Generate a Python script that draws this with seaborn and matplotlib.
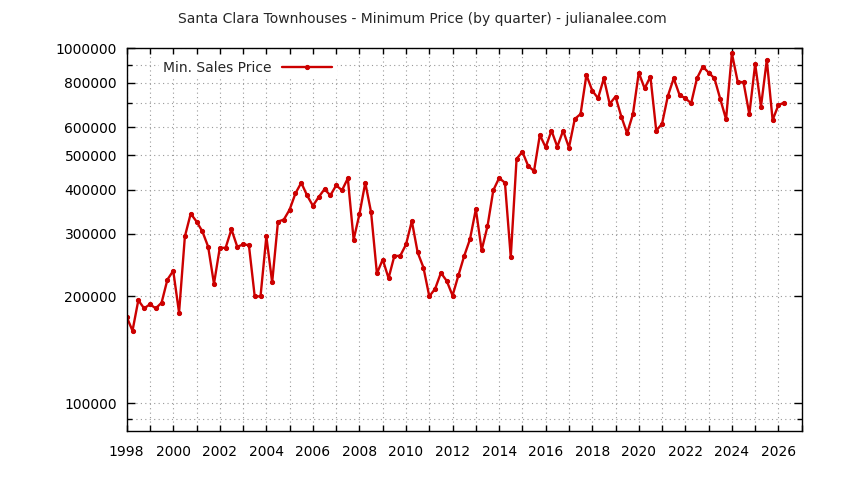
import pandas as pd
import seaborn as sns
import matplotlib
matplotlib.use("Agg")
import matplotlib.pyplot as plt
from matplotlib.ticker import FixedLocator, FuncFormatter, NullFormatter, MultipleLocator

# quarterly minimum sales price, 1998 Q1 .. 2026 Q2
first_quarter = "1998Q1"
last_quarter = "2026Q2"
min_price = [
    175000, 160000, 195000, 185000, 190000, 185000, 192000, 223000,  # 1998-1999
    236000, 180000, 295000, 342000, 325000, 305000, 276000, 217000,  # 2000-2001
    274000, 274000, 309000, 276000, 280000, 279000, 200000, 200000,  # 2002-2003
    295000, 219000, 325000, 329000, 351000, 390000, 418000, 385000,  # 2004-2005
    360000, 381000, 401000, 385000, 411000, 398000, 430000, 289000,  # 2006-2007
    341000, 418000, 345000, 232000, 254000, 225000, 260000, 260000,  # 2008-2009
    280000, 326000, 266000, 241000, 200000, 210000, 233000, 221000,  # 2010-2011
    201000, 229000, 260000, 290000, 352000, 270000, 315000, 398000,  # 2012-2013
    431000, 418000, 258000, 488000, 511000, 466000, 451000, 570000,  # 2014-2015
    526000, 586000, 528000, 586000, 525000, 632000, 653000, 841000,  # 2016-2017
    760000, 723000, 823000, 697000, 731000, 642000, 576000, 653000,  # 2018-2019
    854000, 771000, 832000, 586000, 613000, 734000, 823000, 739000,  # 2020-2021
    723000, 700000, 823000, 888000, 854000, 823000, 720000, 631000,  # 2022-2023
    968000, 805000, 802000, 652000, 903000, 685000, 927000, 628000,  # 2024-2025
    692000, 703000,                                                  # 2026
]

y_major = [100000, 200000, 300000, 400000, 500000, 600000, 800000, 1000000]
y_minor = [90000, 700000, 900000]

periods = pd.period_range(first_quarter, last_quarter, freq="Q")
df = pd.DataFrame({
    "year": periods.year + (periods.quarter - 1) / 4,
    "price": min_price,
})

sns.set_style("ticks")
plt.rcParams["font.family"] = ["DejaVu Sans"]

fig = plt.figure(figsize=(8.44, 4.80), dpi=100)
ax = fig.add_axes([0.1501, 0.1021, 0.7998, 0.7973])

sns.lineplot(data=df, x="year", y="price", ax=ax, color="#cc0000",
             linewidth=1.7, marker="o", markersize=3,
             markeredgecolor="#cc0000", label="Min. Sales Price")

ax.set_yscale("log")
ax.set_xlim(1998, 2027)
ax.set_ylim(83500, 1000000)

ax.yaxis.set_major_locator(FixedLocator(y_major))
ax.yaxis.set_minor_locator(FixedLocator(y_minor))
ax.yaxis.set_major_formatter(FuncFormatter(lambda v, p: "%d" % round(v)))
ax.yaxis.set_minor_formatter(NullFormatter())
ax.xaxis.set_major_locator(MultipleLocator(2))
ax.xaxis.set_minor_locator(MultipleLocator(1))
ax.xaxis.set_major_formatter(FuncFormatter(lambda v, p: "%d" % round(v)))

ax.tick_params(which="both", direction="in", top=True, right=True,
               labelsize=10, colors="black", width=1)
ax.tick_params(axis="y", which="major", length=6, pad=7)
ax.tick_params(axis="y", which="minor", length=3.5)
ax.tick_params(axis="x", which="both", length=4.5)
ax.tick_params(axis="x", which="major", pad=10)

ax.grid(True, which="both", linestyle=(0, (1, 3)), color="#999999", linewidth=0.8)
for s in ax.spines.values():
    s.set_visible(True)
    s.set_color("black")
    s.set_linewidth(1)

ax.set_xlabel("")
ax.set_ylabel("")

leg = ax.legend(loc="upper left", bbox_to_anchor=(0.037, 0.995), markerfirst=False,
                frameon=True, framealpha=1, edgecolor="white", fontsize=10,
                handlelength=3.6, numpoints=1, borderpad=0.3, fancybox=False)
leg.get_frame().set_linewidth(0)

fig.suptitle("Santa Clara Townhouses - Minimum Price (by quarter) - julianalee.com",
             x=0.5, y=0.975, fontsize=10)

fig.savefig("out.png", dpi=100)
